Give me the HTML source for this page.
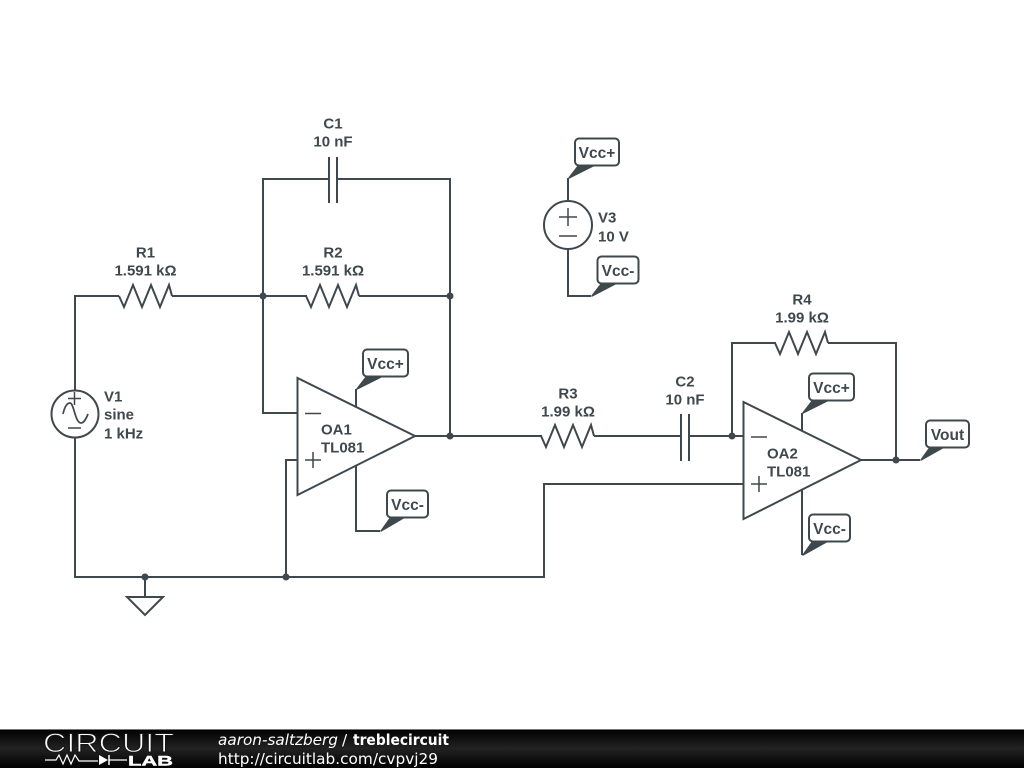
<!DOCTYPE html>
<html>
<head>
<meta charset="utf-8">
<style>
html,body{margin:0;padding:0;background:#fff;width:1024px;height:768px;overflow:hidden}
svg{display:block;filter:blur(0.35px)}
.w{fill:none;stroke:#3f484d;stroke-width:2;stroke-linejoin:miter}
.s{fill:none;stroke:#3f484d;stroke-width:1.500}
.t{font-family:"Liberation Sans",sans-serif;font-weight:bold;font-size:15px;fill:#3f484d}
.l{font-size:15.500px}
.m{text-anchor:middle}
.tag{fill:#fff;stroke:#3f484d;stroke-width:2}
.d{fill:#3f484d}
.p{fill:#3f484d;stroke:#3f484d;stroke-width:1.500;stroke-linejoin:round}
.f{font-family:"DejaVu Sans",sans-serif;font-size:15.300px;fill:#fff}
</style>
</head>
<body>
<svg width="1024" height="768" viewBox="0 0 1024 768" xmlns="http://www.w3.org/2000/svg">
<defs>
<linearGradient id="g" x1="0" y1="0" x2="0" y2="1">
<stop offset="0" stop-color="#000"/><stop offset="0.5" stop-color="#222"/><stop offset="1" stop-color="#000"/>
</linearGradient>
</defs>
<rect width="1024" height="768" fill="#fff"/>

<!-- wires -->
<path class="w" d="M75 391V296H119M172 296H307M359 296H450M75 437V577H544V484H743.5"/>
<path class="w" d="M263 296V179H329M337 179H450V436M263 296V413H297.5M286 577V460H297.5M145 577V597"/>
<path class="w" d="M415 436H542M594 436H681M689 436H743.5M732 436V343H776M828 343H896V460M861 460H920"/>
<path class="w" d="M356 407V389M356 466V531H380M568 178V201M568 249V296H591M802 431V413M802 490V555"/>

<!-- resistors -->
<path class="w" d="M119 296L124 307L133 285L142 307L151 285L160 307L169 285L172 296"/>
<path class="w" d="M306 296L311 307L320 285L329 307L338 285L347 307L356 285L359 296"/>
<path class="w" d="M541 436L546 447L555 425L564 447L573 425L582 447L591 425L594 436"/>
<path class="w" d="M775 343L780 354L789 332L798 354L807 332L816 354L825 332L828 343"/>

<!-- capacitors -->
<path class="w" d="M329 157V203M337 157V203"/>
<path class="w" d="M681 414V461M689 414V461"/>

<!-- op amps -->
<path class="w" d="M297.5 378V495L415 436Z"/>
<path class="w" d="M743.5 402V519L861 460Z"/>
<path class="s" d="M305 413.500H321M305 460H321M313 452V468"/>
<path class="s" d="M751 437H767M751 484H767M759 476V492"/>

<!-- sources -->
<circle class="w" cx="75" cy="414" r="23.500"/>
<path class="s" d="M68 398.500H81M74.500 392V405M68 428H81"/>
<path class="w" style="stroke-width:1.700" d="M63 414C65 405 68 403 70 403C74 403 75 423 81 423C84 423 86 419 88 414"/>
<circle class="w" cx="568" cy="225" r="24"/>
<path class="s" d="M559 217H577M568 208V226M559 236H577"/>

<!-- ground -->
<path class="w" d="M127 597H163L145 615Z"/>

<!-- junctions -->
<circle class="d" cx="263" cy="296" r="3.500"/>
<circle class="d" cx="450" cy="296" r="3.500"/>
<circle class="d" cx="450" cy="436" r="3.500"/>
<circle class="d" cx="732" cy="436" r="3.500"/>
<circle class="d" cx="896" cy="460" r="3.500"/>
<circle class="d" cx="145" cy="577" r="3.500"/>
<circle class="d" cx="286" cy="577" r="3.500"/>

<!-- tags -->
<polygon class="p" points="357,389 367,376 383,376"/>
<rect class="tag" x="363" y="349.500" width="45" height="27" rx="4"/>
<text class="t l m" x="385.500" y="369">Vcc+</text>

<polygon class="p" points="381,531 391,517 405,517"/>
<rect class="tag" x="387" y="490.500" width="41" height="27" rx="4"/>
<text class="t l m" x="407.500" y="510">Vcc-</text>

<polygon class="p" points="569,178 579,165 595,165"/>
<rect class="tag" x="575" y="138.500" width="44" height="27" rx="4"/>
<text class="t l m" x="597" y="158">Vcc+</text>

<polygon class="p" points="592,296 602,283 617,283"/>
<rect class="tag" x="597.500" y="256.500" width="41" height="27" rx="4"/>
<text class="t l m" x="618" y="276">Vcc-</text>

<polygon class="p" points="803,413 813,400 829,400"/>
<rect class="tag" x="809" y="373.500" width="45" height="27" rx="4"/>
<text class="t l m" x="831.500" y="393">Vcc+</text>

<polygon class="p" points="803,555 813,541 828,541"/>
<rect class="tag" x="809" y="514.500" width="41" height="27" rx="4"/>
<text class="t l m" x="829.500" y="534">Vcc-</text>

<polygon class="p" points="921,460 931,446 946,446"/>
<rect class="tag" x="926" y="420.500" width="43" height="27" rx="4"/>
<text class="t l m" x="947.500" y="440">Vout</text>

<!-- labels -->
<text class="t m" x="333" y="128.500">C1</text>
<text class="t m" x="333" y="146.500">10 nF</text>
<text class="t m" x="145.500" y="257.500">R1</text>
<text class="t m" x="145.500" y="275.500">1.591 kΩ</text>
<text class="t m" x="333" y="257.500">R2</text>
<text class="t m" x="333" y="275.500">1.591 kΩ</text>
<text class="t m" x="568" y="398.500">R3</text>
<text class="t m" x="568" y="416.500">1.99 kΩ</text>
<text class="t m" x="685" y="386.500">C2</text>
<text class="t m" x="685" y="404.500">10 nF</text>
<text class="t m" x="802" y="304.500">R4</text>
<text class="t m" x="802" y="322.500">1.99 kΩ</text>
<text class="t" x="104" y="401.500">V1</text>
<text class="t" x="104" y="419.500">sine</text>
<text class="t" x="104" y="438.500">1 kHz</text>
<text class="t" x="598" y="222.500">V3</text>
<text class="t" x="598" y="241.500">10 V</text>
<text class="t" x="321" y="434.500">OA1</text>
<text class="t" x="321" y="452.500">TL081</text>
<text class="t" x="767" y="458.500">OA2</text>
<text class="t" x="767" y="476.500">TL081</text>

<!-- footer -->
<rect x="0" y="729" width="1024" height="39" fill="url(#g)"/>
<rect x="0" y="729" width="1024" height="1" fill="#777"/>
<text x="43" y="752" font-family="'Liberation Sans',sans-serif" font-size="26.500" textLength="131" lengthAdjust="spacingAndGlyphs" fill="#fff" stroke="#151515" stroke-width="1">CIRCUIT</text>
<path fill="none" stroke="#fff" stroke-width="1.200" d="M45 760H56L59 755L63 764L67 755L71 764L75 755L79 761H98M109 760H127"/>
<polygon fill="#fff" points="99,755 99,765 108,760"/>
<path fill="none" stroke="#fff" stroke-width="1.500" d="M109 755V765"/>
<text x="128" y="765.500" font-family="'Liberation Sans',sans-serif" font-weight="bold" font-size="14" textLength="45" lengthAdjust="spacingAndGlyphs" fill="#fff" stroke="#fff" stroke-width="0.400">LAB</text>
<text class="f" x="218" y="745" font-style="italic" textLength="120" lengthAdjust="spacingAndGlyphs">aaron-saltzberg</text>
<text class="f" x="342" y="745">/</text>
<text class="f" x="353" y="745" font-weight="bold" textLength="96" lengthAdjust="spacingAndGlyphs">treblecircuit</text>
<text class="f" x="218" y="764" textLength="220" lengthAdjust="spacingAndGlyphs">http://circuitlab.com/cvpvj29</text>
</svg>
</body>
</html>
